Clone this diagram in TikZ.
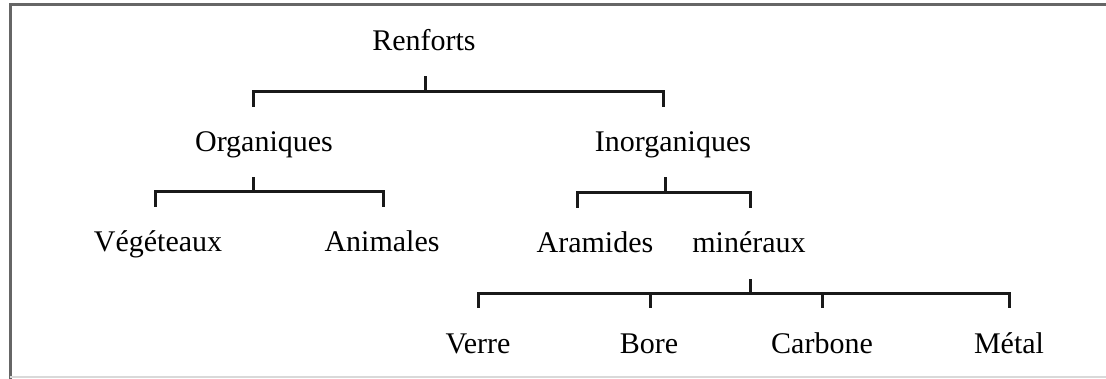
\documentclass[tikz,border=0pt]{standalone}
\usepackage{fontspec}
\setmainfont{Liberation Serif}
\begin{document}
\begin{tikzpicture}[x=1pt,y=-1pt,
  lbl/.style={anchor=base,inner sep=0pt,font=\fontsize{30}{34}\selectfont},
  br/.style={line width=3pt,line join=miter,line cap=rect,black!90},
  frame/.style={line width=3pt,black!60}]
\useasboundingbox (0,0) rectangle (1106,379);
% outer frame
\draw[frame] (10,379) -- (10,5) -- (1106,5);
\draw[line width=1.5pt,black!15] (10,377) -- (1106,377);

% labels
\node[lbl] (ren) at (424,51) {Renforts};
\node[lbl] (org) at (264,152) {Organiques};
\node[lbl] (ino) at (673,152) {Inorganiques};
\node[lbl] (veg) at (158,252) {Végéteaux};
\node[lbl] (ani) at (382,252) {Animales};
\node[lbl] (ara) at (595,253) {Aramides};
\node[lbl] (min) at (749,253) {minéraux};
\node[lbl] (ver) at (478,353) {Verre};
\node[lbl] (bor) at (649,353) {Bore};
\node[lbl] (car) at (822,353) {Carbone};
\node[lbl] (met) at (1009,353) {Métal};

% bracket end points
\coordinate (renS) at (425,78);
\coordinate (orgL) at (253,106);
\coordinate (inoL) at (663,106);
\coordinate (orgS) at (253,179);
\coordinate (vegL) at (155,206);
\coordinate (aniL) at (383,206);
\coordinate (inoS) at (665,179);
\coordinate (araL) at (577,207);
\coordinate (minL) at (750,207);
\coordinate (minS) at (750,281);
\coordinate (verL) at (478,307);
\coordinate (borL) at (650,307);
\coordinate (carL) at (822,307);
\coordinate (metL) at (1009,307);

% Renforts
\draw[br] (orgL) -- ++(0,-14) -| (inoL);
\draw[br] (renS) -- ++(0,14);
% Organiques
\draw[br] (vegL) -- ++(0,-14) -| (aniL);
\draw[br] (orgS) -- ++(0,13);
% Inorganiques
\draw[br] (araL) -- ++(0,-14) -| (minL);
\draw[br] (inoS) -- ++(0,14);
% minéraux
\draw[br] (verL) -- ++(0,-13) -| (metL);
\draw[br] (minS) -- ++(0,13);
\draw[br] (borL) -- ++(0,-13);
\draw[br] (carL) -- ++(0,-13);
\end{tikzpicture}
\end{document}
